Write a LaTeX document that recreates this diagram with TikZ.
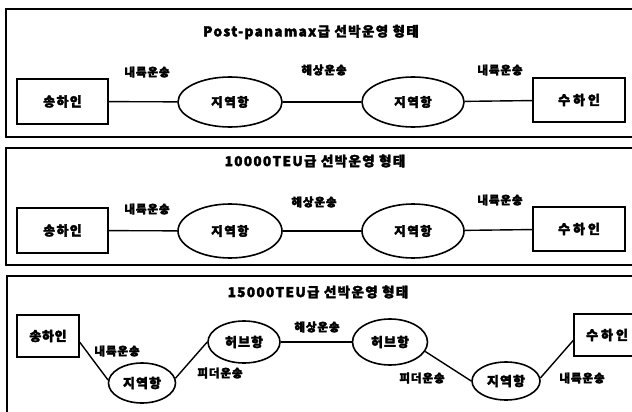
\documentclass[tikz,border=0pt]{standalone}
\usepackage{fontspec}
\setmainfont{Noto Sans CJK KR}[BoldFeatures={FakeBold=2.5}]
\usetikzlibrary{shapes.geometric}
\newcommand{\lsp}[1]{\addfontfeatures{LetterSpace=#1}}
\tikzset{
  frame/.style={line width=1.4pt},
  conn/.style={line width=1.4pt},
  boxnode/.style={draw,line width=1.4pt,rectangle,inner sep=0pt,font=\fontsize{13}{15}\selectfont\bfseries},
  port/.style={draw,line width=1.6pt,ellipse,inner sep=0pt,font=\fontsize{12.5}{14}\selectfont\bfseries\lsp{12}},
  lbl/.style={inner sep=0pt,font=\fontsize{11.5}{13}\selectfont\bfseries\lsp{8}},
  ttl/.style={inner sep=0pt,font=\fontsize{13.5}{15}\selectfont\bfseries\lsp{10}},
}
\begin{document}
\begin{tikzpicture}[x=1pt,y=-1pt]
\useasboundingbox (0,0) rectangle (632,412);
\clip (0,0) rectangle (632,412);
\fill[white] (0,0) rectangle (632,412);
% ---------- panel 1 ----------
\draw[frame] (645,9) -- (6,9) -- (6,137) -- (645,137);
\node[ttl] (t1) at (311,32) {Post-panamax급 선박운영 형태};
\node[boxnode,minimum width=91pt,minimum height=45pt,font=\fontsize{13}{15}\selectfont\bfseries\lsp{10}] (a1) at (62.5,101.5) {송하인};
\node[port,minimum width=104pt,minimum height=50pt] (e1) at (230,102) {지역항};
\node[port,minimum width=102pt,minimum height=50pt] (f1) at (413,102) {지역항};
\node[boxnode,minimum width=92pt,minimum height=44pt] (b1) at (579,100) {수 하 인};
\node[lbl] (l11) at (147,72) {내륙운송};
\node[lbl] (l12) at (324,70) {해상운송};
\node[lbl] (l13) at (500,70) {내륙운송};
\draw[conn] (a1) -- (e1);
\draw[conn] (e1) -- (f1);
\draw[conn] (f1) -- (b1);
% ---------- panel 2 ----------
\draw[frame] (645,148) -- (6,148) -- (6,265) -- (645,265);
\node[ttl] (t2) at (315,161) {10000TEU급 선박운영 형태};
\node[boxnode,minimum width=91pt,minimum height=45pt,font=\fontsize{13}{15}\selectfont\bfseries\lsp{10}] (a2) at (62.5,230.5) {송하인};
\node[port,minimum width=104pt,minimum height=54pt] (e2) at (230,231) {지역항};
\node[port,minimum width=102pt,minimum height=54pt] (f2) at (413,231) {지역항};
\node[boxnode,minimum width=92pt,minimum height=44pt] (b2) at (579,229) {수 하 인};
\node[lbl] (l21) at (147,209) {내륙운송};
\node[lbl] (l22) at (314,202) {해상운송};
\node[lbl] (l23) at (500,200) {내륙운송};
\draw[conn] (a2) -- (e2);
\draw[conn] (e2) -- (f2);
\draw[conn] (f2) -- (b2);
% ---------- panel 3 ----------
\draw[frame] (645,276) -- (7,276) -- (7,420);
\node[ttl] (t3) at (318,292) {15000TEU급 선박운영 형태};
\node[boxnode,minimum width=62pt,minimum height=42pt,font=\fontsize{13}{15}\selectfont\bfseries\lsp{5}] (a3) at (48,336) {송하인};
\node[port,minimum width=67pt,minimum height=40pt,font=\fontsize{13}{15}\selectfont\bfseries\lsp{8}] (g3) at (142,383) {지역항};
\node[port,minimum width=72pt,minimum height=42pt,font=\fontsize{13}{15}\selectfont\bfseries\lsp{8}] (h3) at (244,342) {허브항};
\node[port,minimum width=75pt,minimum height=46pt,font=\fontsize{13}{15}\selectfont\bfseries\lsp{8}] (k3) at (390,342) {허브항};
\node[port,minimum width=68pt,minimum height=38pt,font=\fontsize{13}{15}\selectfont\bfseries\lsp{8}] (m3) at (506,381) {지역항};
\node[boxnode,minimum width=66pt,minimum height=42pt] (b3) at (607,335) {수 하 인};
\node[lbl] (l31) at (117,351) {내륙운송};
\node[lbl] (l32) at (220,373) {피더운송};
\node[lbl] (l33) at (317,327) {해상운송};
\node[lbl] (l34) at (422,378) {피더운송};
\node[lbl] (l35) at (582,378) {내륙운송};
\draw[conn] (a3.-11) -- (g3.175);
\draw[conn] (g3.8) -- (h3.west);
\draw[conn] (h3) -- (k3);
\draw[conn] (k3.-15) -- (m3.west);
\draw[conn] (m3.5) -- (b3.189);
\end{tikzpicture}
\end{document}
